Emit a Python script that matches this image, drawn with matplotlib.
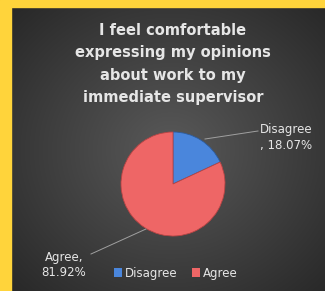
import numpy as np
import matplotlib
matplotlib.use("Agg")
import matplotlib.pyplot as plt
from matplotlib.patches import Rectangle, Patch

labels = ["Disagree", "Agree"]
values = [18.07, 81.92]
pct_text = ["Disagree\n, 18.07%", "Agree,\n81.92%"]
colors = ["#4a86dc", "#ee6666"]
title = "I feel comfortable\nexpressing my opinions\nabout work to my\nimmediate supervisor"

W, H = 325, 291
fig = plt.figure(figsize=(W / 100, H / 100), dpi=100)
fig.patch.set_facecolor("#2c2c2c")

# dark panel with radial gradient
bg = fig.add_axes([0, 0, 1, 1])
bg.set_axis_off()
yy, xx = np.mgrid[0:H, 0:W]
d = np.sqrt(((xx - 170) / 230.0) ** 2 + ((yy - 150) / 210.0) ** 2)
shade = np.clip(0.35 - 0.2 * d, 0.16, 0.35)
bg.imshow(np.dstack([shade] * 3), aspect="auto", extent=[0, W, 0, H])
# yellow frame on the top and left
bg.add_patch(Rectangle((0, 0), 11, H, color="#ffd43b", zorder=3))
bg.add_patch(Rectangle((0, H - 7), W, 7, color="#ffd43b", zorder=3))
bg.set_xlim(0, W)
bg.set_ylim(0, H)

ax = fig.add_axes([0, 0, 1, 1])
ax.set_axis_off()
cx, cy, r = 173, H - 184, 52
wedges, _ = ax.pie(values, colors=colors, startangle=90, counterclock=False,
                   center=(cx, cy), radius=r, frame=True,
                   wedgeprops=dict(edgecolor="#b84444", linewidth=0.6))
wedges[0].set_edgecolor("#2d5c9e")
ax.set_xlim(0, W)
ax.set_ylim(0, H)
ax.set_aspect("equal")
ax.set_axis_off()
ax.patch.set_alpha(0)

txt = "#e6e6e6"
ax.text(173, H - 64, title, ha="center", va="center", color=txt,
        fontsize=10.5, fontweight="bold", linespacing=1.6)

# data labels with leader lines
ax.plot([205, 258], [H - 139, H - 131], color="#a0a0a0", lw=0.7)
ax.text(286, H - 138, pct_text[0], ha="center", va="center", color=txt,
        fontsize=8.5, linespacing=1.3)
ax.plot([146, 91], [H - 229, H - 254], color="#a0a0a0", lw=0.7)
ax.text(64, H - 265, pct_text[1], ha="center", va="center", color=txt,
        fontsize=8.5, linespacing=1.3)

handles = [Patch(facecolor=c, edgecolor="none") for c in colors]
fig.legend(handles, labels, loc="center", bbox_to_anchor=(176 / W, 1 - 273 / H),
           ncol=2, frameon=False, fontsize=8.5, labelcolor=txt,
           handlelength=0.7, handleheight=0.7, handletextpad=0.25,
           columnspacing=1.2)

fig.savefig("out.png", dpi=100, facecolor=fig.get_facecolor())
